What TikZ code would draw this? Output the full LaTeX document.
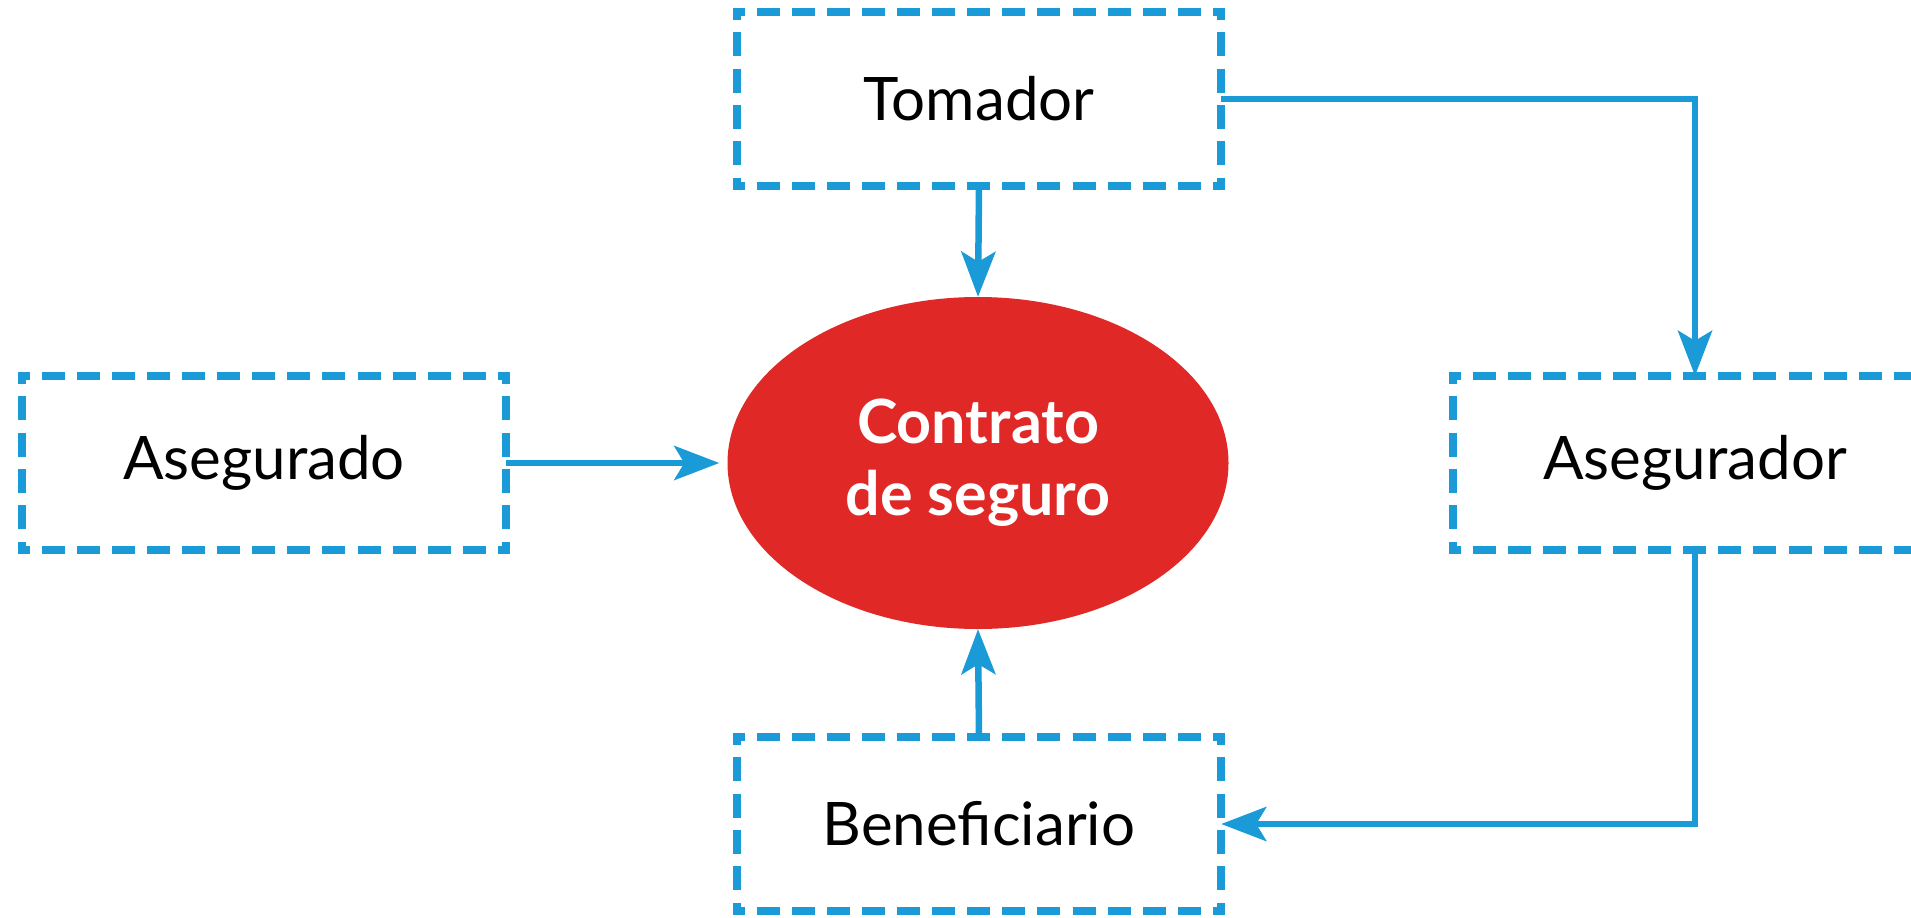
\documentclass[tikz,border=0pt]{standalone}
\usepackage{fontspec}
\setmainfont{Lato}
\usetikzlibrary{arrows.meta,shapes.geometric}
\definecolor{cblue}{HTML}{1A9BD7}
\definecolor{cred}{HTML}{E02826}
\newcommand\dashedframe[1]{%
  \draw[hside] (#1.north west) -- (#1.north east);
  \draw[hside] (#1.south west) -- (#1.south east);
  \draw[vside] (#1.north west) -- (#1.south west);
  \draw[vside] (#1.north east) -- (#1.south east);}
\begin{document}
\begin{tikzpicture}[x=1pt,y=-1pt,
  box/.style={rectangle, minimum width=484pt, minimum height=174pt, inner sep=0pt,
    font=\fontsize{60}{72}\selectfont},
  hside/.style={draw=cblue, line width=7.5pt, shorten <=-3.75pt, shorten >=-3.75pt,
    dash pattern=on 23pt off 12.1pt, dash phase=11.5pt},
  vside/.style={draw=cblue, line width=7.5pt, shorten <=-3.75pt, shorten >=-3.75pt,
    dash pattern=on 24pt off 12.3pt, dash phase=12pt},
  conn/.style={draw=cblue, line width=6.5pt, -{Stealth[length=45pt,width=34pt,inset=10pt]}},
  ]
\fill[white] (0,0) rectangle (1911,918);
\clip (0,0) rectangle (1911,918);
\useasboundingbox (0,0) rectangle (1911,918);
\node[box] (tom) at (979,99) {Tomador};
\node[box] (asd) at (264,463) {Asegurado};
\node[box] (asr) at (1695,463) {Asegurador};
\node[box] (ben) at (979,824) {Beneficiario};
\node[ellipse, fill=cred, minimum width=501pt, minimum height=332pt, inner sep=0pt,
  text=white, align=center, font=\bfseries\fontsize{61}{72}\selectfont] (con) at (978,463) {Contrato\\de seguro};
\dashedframe{tom}
\dashedframe{asd}
\dashedframe{asr}
\dashedframe{ben}
\draw[conn] (tom.south) -- (con.north);
\draw[conn, shorten >=8pt] (asd.east) -- (con.west);
\draw[conn] (ben.north) -- (con.south);
\draw[conn] (tom.east) -| (asr.north);
\draw[conn] (asr.south) |- (ben.east);
\end{tikzpicture}
\end{document}
